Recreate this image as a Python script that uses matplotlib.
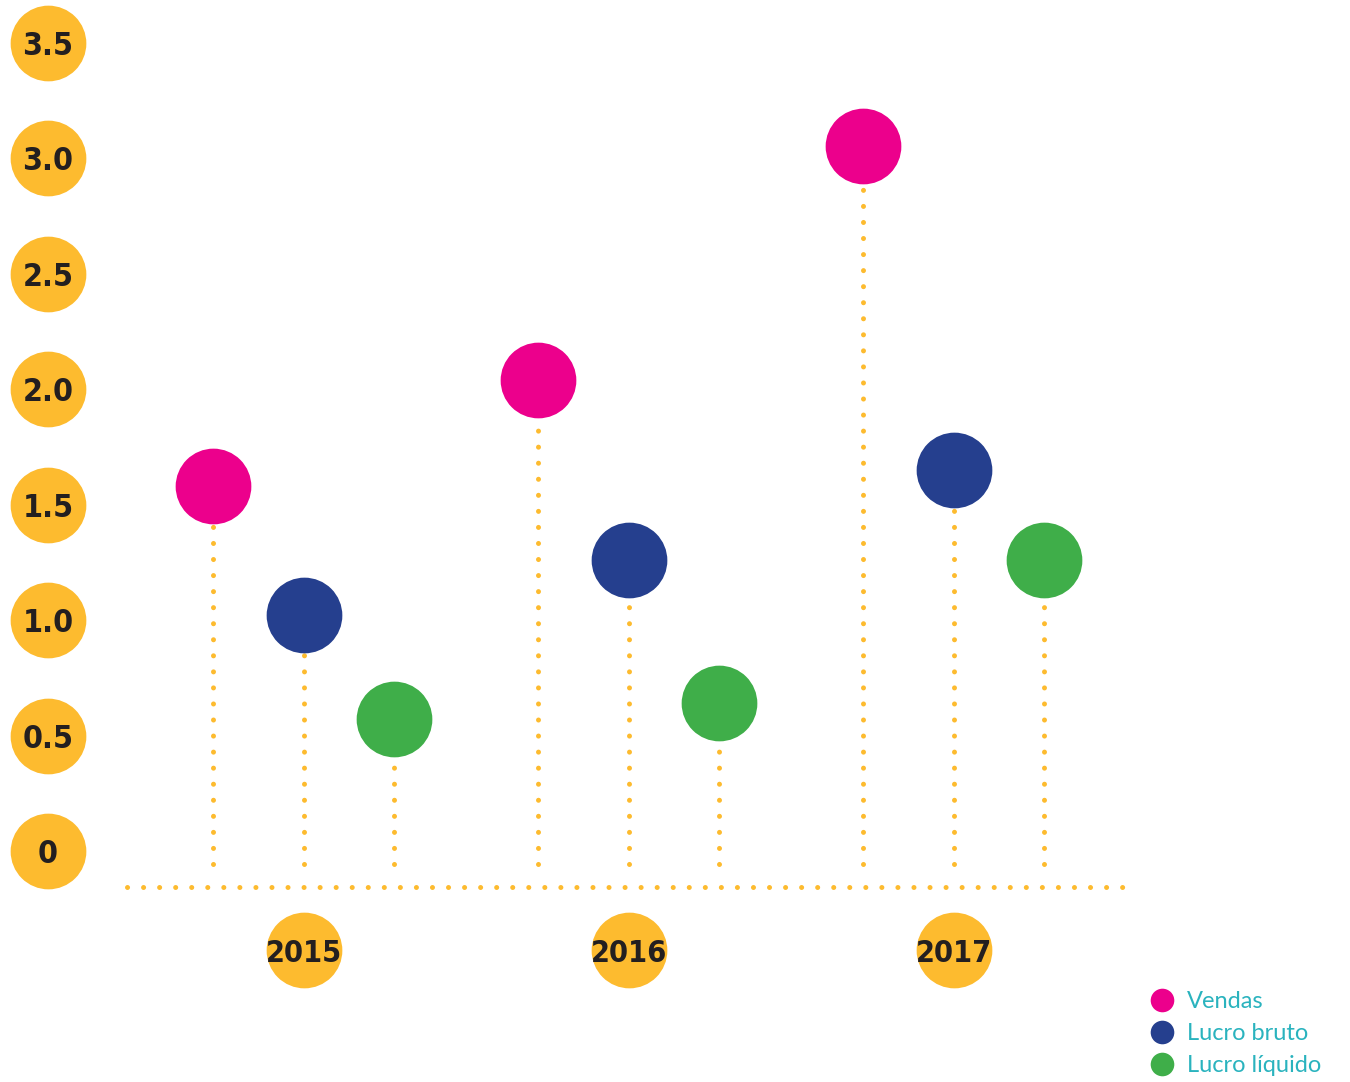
import matplotlib
matplotlib.use("Agg")
import matplotlib.pyplot as plt
from matplotlib import font_manager as fm

years = ["2015", "2016", "2017"]
series = ["Vendas", "Lucro bruto", "Lucro líquido"]
vendas = [1.58, 2.04, 3.05]
lucro_bruto = [1.02, 1.26, 1.65]
lucro_liquido = [0.57, 0.64, 1.26]
y_ticks = [0, 0.5, 1.0, 1.5, 2.0, 2.5, 3.0, 3.5]
y_tick_labels = ["0", "0.5", "1.0", "1.5", "2.0", "2.5", "3.0", "3.5"]

colors = ["#EC008C", "#253F8E", "#3FAE49"]
yellow = "#FDBB2F"
teal = "#2AB3BE"
dark = "#231F20"

names = {f.name for f in fm.fontManager.ttflist}
num_props = dict(family="DejaVu Sans", fontstretch="condensed", fontweight="bold")
if "Liberation Sans Narrow" in names:
    num_props = dict(family="Liberation Sans Narrow", fontweight="bold")

W, H = 1350, 1082
fig = plt.figure(figsize=(W / 100, H / 100), dpi=100)
ax = fig.add_axes([0, 0, 1, 1])
ax.set_axis_off()

px_per_x = 90.5
x0_px = 304
px_per_y = 231.0
y0_px = 851
ax.set_xlim((0 - x0_px) / px_per_x, (W - x0_px) / px_per_x)
ax.set_ylim((y0_px - H) / px_per_y, (y0_px - 0) / px_per_y)

group_gap = 3.59
values = [vendas, lucro_bruto, lucro_liquido]
stem_bottom = -0.057
base_y = -0.156
dot_style = (0, (0.01, 3.2))

for gi, yr in enumerate(years):
    cx = gi * group_gap
    for si, vals in enumerate(values):
        x = cx + (si - 1)
        ax.vlines(x, stem_bottom, vals[gi], colors=yellow, linewidth=3.6,
                  linestyles=dot_style, capstyle="round", zorder=1)
        ax.scatter([x], [vals[gi]], s=54.5 ** 2, color=colors[si], zorder=3,
                   linewidths=0)
    ax.scatter([cx], [-0.43], s=54.5 ** 2, color=yellow, zorder=3, linewidths=0)
    ax.text(cx, -0.43, yr, ha="center", va="center_baseline", fontsize=22,
            color=dark, zorder=4, **num_props)

bx0 = (127 - x0_px) / px_per_x
bx1 = (1127 - x0_px) / px_per_x
ax.hlines(base_y, bx0, bx1, colors=yellow, linewidth=3.6,
          linestyles=dot_style, capstyle="round", zorder=1)

tx = (48 - x0_px) / px_per_x
for v, lab in zip(y_ticks, y_tick_labels):
    ax.scatter([tx], [v], s=54.5 ** 2, color=yellow, zorder=3, linewidths=0)
    ax.text(tx, v, lab, ha="center", va="center_baseline", fontsize=23,
            color=dark, zorder=4, **num_props)

lx = (1162 - x0_px) / px_per_x
ltx = (1187 - x0_px) / px_per_x
for i, name in enumerate(series):
    ly = (y0_px - (1000 + 32 * i)) / px_per_y
    ax.scatter([lx], [ly], s=17 ** 2, color=colors[i], zorder=3, linewidths=0)
    ax.text(ltx, ly, name, ha="left", va="center_baseline", fontsize=17,
            family=["Lato", "DejaVu Sans"], fontweight="normal", color=teal)

fig.savefig("out.png", dpi=100)
